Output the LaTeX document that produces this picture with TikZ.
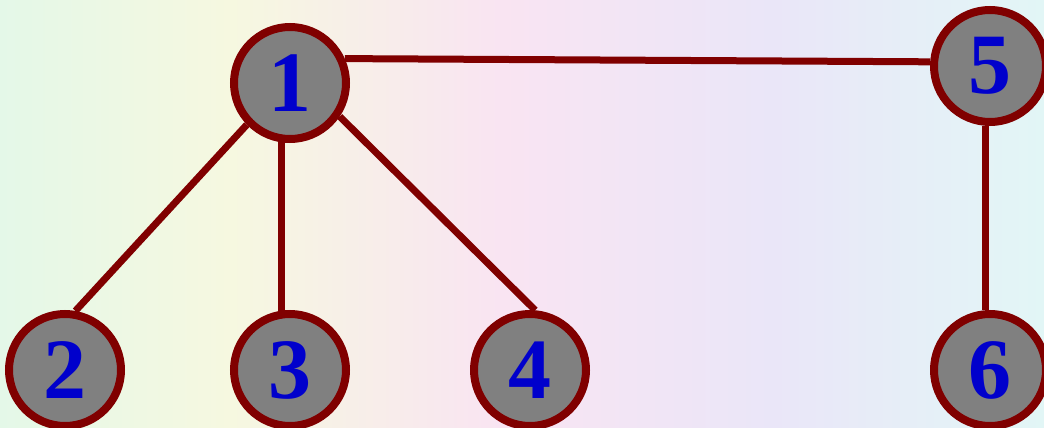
\documentclass[tikz,border=0pt]{standalone}
\usepackage{fontspec}
\setmainfont{Liberation Serif}
\definecolor{edgered}{HTML}{800000}
\definecolor{nodegray}{HTML}{808080}
\definecolor{numblue}{HTML}{0000CC}
\definecolor{bgA}{HTML}{E4F8E8}
\definecolor{bgB}{HTML}{F6F8E0}
\definecolor{bgC}{HTML}{F9E4F2}
\definecolor{bgD}{HTML}{EAE6F8}
\definecolor{bgE}{HTML}{E2F6F6}
\pgfdeclarehorizontalshading{bgshade}{100bp}{color(0bp)=(bgA); color(25bp)=(bgA); color(36bp)=(bgB); color(49bp)=(bgC); color(62bp)=(bgD); color(75bp)=(bgE); color(100bp)=(bgE)}
\pgfdeclarelayer{bg}
\pgfdeclarelayer{edges}
\pgfsetlayers{bg,edges,main}
\begin{document}
\begin{tikzpicture}[x=1pt,y=-1pt,
  vtx/.style={circle, draw=edgered, fill=nodegray, line width=8pt, minimum size=112pt, inner sep=0pt, text=numblue, font=\fontsize{86}{86}\selectfont\bfseries},
  link/.style={draw=edgered, line width=7pt}]
\useasboundingbox (0,0) rectangle (1044,428);
\node[vtx] (n1) at (290,83) {1};
\node[vtx] (n5) at (990,66) {5};
\node[vtx] (n2) at (65,370) {2};
\node[vtx] (n3) at (290,370) {3};
\node[vtx] (n4) at (530,370) {4};
\node[vtx] (n6) at (990,370) {6};
\begin{pgfonlayer}{edges}
\path[link] (n1.24) -- (n5.176);
\path[link] (n1.224) -- (n2.80);
\path[link] (n1.262) -- (n3.98);
\path[link] (n1.326) -- (n4.85);
\path[link] (n5.266) -- (n6.94);
\end{pgfonlayer}
\begin{pgfonlayer}{bg}
\shade[shading=bgshade] (0,0) rectangle (1044,428);
\end{pgfonlayer}
\end{tikzpicture}
\end{document}
